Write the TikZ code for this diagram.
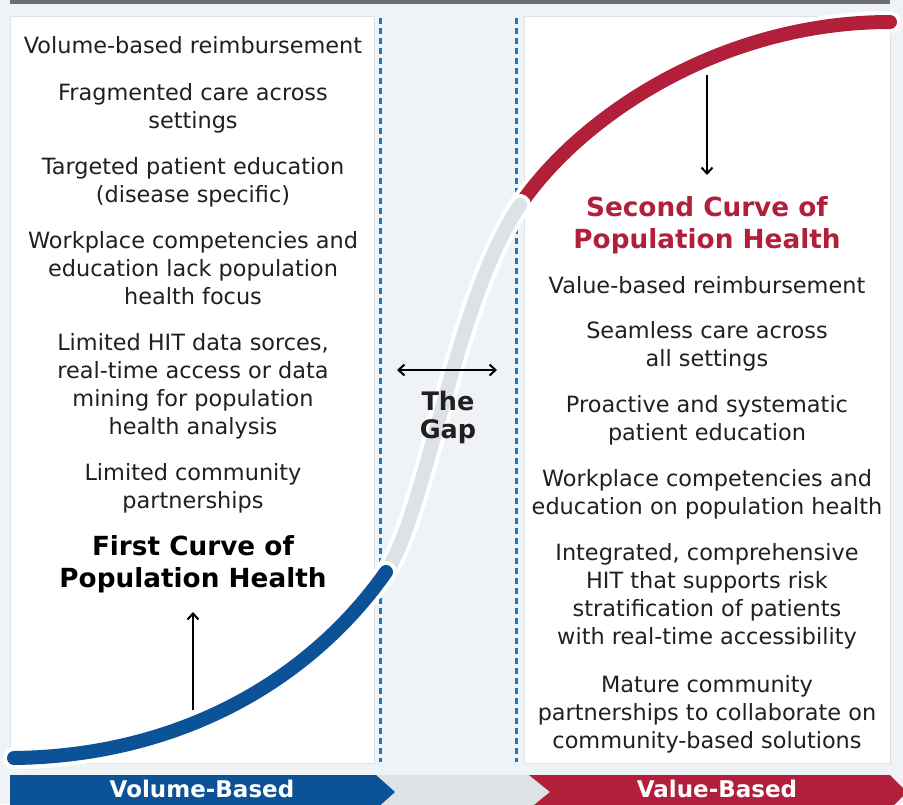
\documentclass[tikz,border=0pt]{standalone}
\usepackage{fontspec}
\setmainfont{DejaVu Sans}
\usetikzlibrary{arrows.meta,positioning}

\definecolor{pagebg}{HTML}{F0F3F5}
\definecolor{barline}{HTML}{6D6E71}
\definecolor{panelrim}{HTML}{DCE3E8}
\definecolor{dotblue}{HTML}{1C78C0}
\definecolor{volblue}{HTML}{0B5297}
\definecolor{valred}{HTML}{B21F3B}
\definecolor{gapgray}{HTML}{DDE2E6}
\definecolor{ink}{HTML}{231F20}

\begin{document}
\begin{tikzpicture}[x=1pt,y=-1pt,>={Straight Barb[length=6pt,width=11pt]},
    item/.style={align=center,inner sep=0pt,text=ink,
      font=\fontsize{22.4}{28}\selectfont,
      execute at begin node=\strut,execute at end node=\strut},
    head/.style={item,text=black,font=\fontsize{26.3}{32}\selectfont\bfseries},
    panel/.style={fill=white,draw=panelrim,line width=1pt},
    divider/.style={dotblue,line width=3pt,dash pattern=on 6pt off 4pt},
    halo/.style={white,line width=22pt,line cap=round},
    curve/.style={line width=14pt,line cap=round},
    pointer/.style={->,black,line width=2pt},
    tag/.style={text=white,font=\fontsize{23}{26}\selectfont\bfseries}]

  % page and frames
  \useasboundingbox[fill=pagebg] (0,0) rectangle (903,804);
  \fill[barline] (10,0) rectangle (890,3.5);
  \node[panel,minimum width=364pt,minimum height=747pt,anchor=north west] (leftpanel) at (10,16) {};
  \node[panel,minimum width=366pt,minimum height=747pt,anchor=north west] (rightpanel) at (524,16) {};
  \draw[divider] (380,18) -- (380,762);
  \draw[divider] (516,18) -- (516,762);

  % bottom band
  \fill[gapgray] (376,775) rectangle (552,809);
  \fill[volblue] (10,775) -- (376,775) -- (395,792) -- (376,809) -- (10,809) -- cycle;
  \fill[valred] (529,775) -- (890,775) -- (907,792) -- (890,809) -- (529,809) -- (550,792) -- cycle;
  \node[tag] (volume) at (202,789) {Volume-Based};
  \node[tag] (value) at (717,789) {Value-Based};

  % the S curve
  \coordinate (c0) at (14,758);
  \coordinate (c1) at (386,572);
  \coordinate (c2) at (520,205);
  \coordinate (c3) at (890,22);
  \draw[halo] (c2) .. controls (580,117) and (720,22) .. (c3);
  \draw[curve,valred] (c2) .. controls (580,117) and (720,22) .. (c3);
  \draw[halo] (c1) .. controls (426,514) and (455,300) .. (c2);
  \draw[curve,gapgray] (c1) .. controls (426,514) and (455,300) .. (c2);
  \draw[halo] (c0) .. controls (180,756) and (310,680) .. (c1);
  \draw[curve,volblue] (c0) .. controls (180,756) and (310,680) .. (c1);

  % first curve column
  \node[item] (l1) at (193,48) {Volume-based reimbursement};
  \node[item] (l2) at (193,110) {Fragmented care across\\settings};
  \node[item] (l3) at (193,184) {Targeted patient education\\(disease specific)};
  \node[item] (l4) at (193,272) {Workplace competencies and\\education lack population\\health focus};
  \node[item] (l5) at (193,388) {Limited HIT data sorces,\\real-time access or data\\mining for population\\health analysis};
  \node[item] (l6) at (193,490) {Limited community\\partnerships};
  \node[head] (firsthead) at (193,566) {First Curve of\\Population Health};

  % second curve column
  \node[head,text=valred] (secondhead) at (707,227) {Second Curve of\\Population Health};
  \node[item] (r1) at (707,288) {Value-based reimbursement};
  \node[item] (r2) at (707,348) {Seamless care across\\all settings};
  \node[item] (r3) at (707,422) {Proactive and systematic\\patient education};
  \node[item] (r4) at (707,496) {Workplace competencies and\\education on population health};
  \node[item] (r5) at (707,598) {Integrated, comprehensive\\HIT that supports risk\\stratification of patients\\with real-time accessibility};
  \node[item] (r6) at (707,716) {Mature community\\partnerships to collaborate on\\community-based solutions};

  % the gap
  \node[head,text=ink,font=\fontsize{25.5}{28}\selectfont\bfseries] (gap) at (448,419) {The\\Gap};
  \coordinate (gapleft) at (397,370);
  \coordinate (gapright) at (497,370);
  \draw[pointer,<->] (gapleft) -- (gapright);

  % pointers from the curve
  \coordinate (firstfoot) at (193,710);
  \coordinate (firsttip) at (193,612);
  \draw[pointer] (firstfoot) -- (firsttip);
  \coordinate (secondfoot) at (707,75);
  \coordinate (secondtip) at (707,175);
  \draw[pointer] (secondfoot) -- (secondtip);
\end{tikzpicture}
\end{document}
